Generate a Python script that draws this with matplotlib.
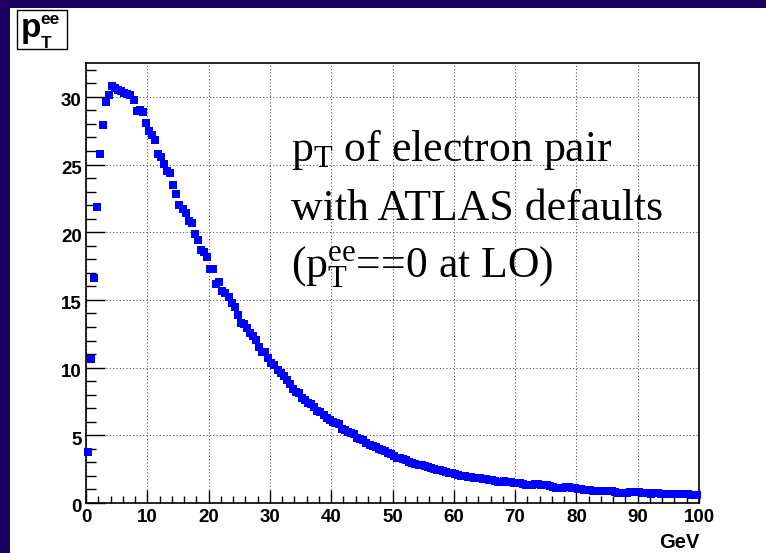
import numpy as np
import matplotlib
matplotlib.use("Agg")
import matplotlib.pyplot as plt
from matplotlib.patches import Rectangle
from matplotlib.ticker import MultipleLocator
from matplotlib.transforms import ScaledTranslation

# ---------------- data ----------------
x_min, x_max, n_bins = 0.0, 100.0, 200
pt_counts = [
    3.8, 10.6, 16.6, 21.9, 25.8, 27.9, 29.6, 30.1, 30.8, 30.65,
    30.5, 30.45, 30.3, 30.2, 30.1, 29.75, 28.95, 29.0, 28.9, 28.1,
    27.5, 27.15, 26.8, 25.8, 25.55, 25.07, 24.5, 24.4, 23.5, 22.85,
    22.0, 21.7, 21.4, 20.8, 20.7, 19.85, 19.45, 18.67, 18.55, 18.2,
    17.3, 17.3, 16.16, 16.33, 15.67, 15.52, 15.18, 14.78, 14.49, 13.85,
    13.33, 13.19, 12.89, 12.52, 12.35, 12.03, 11.54, 11.17, 11.12, 10.68,
    10.35, 10.22, 9.8, 9.6, 9.35, 9.05, 8.78, 8.4, 8.2, 8.1,
    7.75, 7.58, 7.4, 7.3, 7.1, 6.8, 6.72, 6.5, 6.25, 6.12,
    5.95, 5.9, 5.8, 5.5, 5.38, 5.25, 5.2, 5.12, 4.8, 4.75,
    4.66, 4.45, 4.3, 4.18, 4.12, 4.0, 3.92, 3.84, 3.7, 3.6,
    3.5, 3.35, 3.3, 3.22, 3.17, 3.05, 2.98, 2.9, 2.8, 2.78,
    2.74, 2.68, 2.58, 2.52, 2.45, 2.42, 2.33, 2.3, 2.22, 2.18,
    2.12, 2.06, 2.03, 1.99, 1.95, 1.9, 1.88, 1.83, 1.82, 1.77,
    1.75, 1.72, 1.7, 1.62, 1.55, 1.57, 1.6, 1.57, 1.55, 1.5,
    1.46, 1.45, 1.38, 1.33, 1.3, 1.35, 1.38, 1.38, 1.36, 1.33,
    1.32, 1.25, 1.18, 1.1, 1.08, 1.1, 1.17, 1.2, 1.12, 1.08,
    1.06, 1.02, 0.98, 0.96, 0.93, 0.9, 0.9, 0.89, 0.88, 0.9,
    0.89, 0.85, 0.8, 0.76, 0.77, 0.75, 0.76, 0.78, 0.79, 0.8,
    0.79, 0.75, 0.72, 0.71, 0.7, 0.72, 0.71, 0.7, 0.68, 0.69,
    0.69, 0.67, 0.66, 0.66, 0.65, 0.64, 0.64, 0.62, 0.6, 0.59,
]
x_ticks = [0, 10, 20, 30, 40, 50, 60, 70, 80, 90, 100]
y_ticks = [0, 5, 10, 15, 20, 25, 30]
x_unit = "GeV"
annotation_lines = [
    r"$\mathregular{p_T}$ of electron pair",
    "with ATLAS defaults",
    r"($\mathregular{p_T^{ee}}$==0 at LO)",
]

# ---------------- figure ----------------
W, H = 766, 553
navy = "#1b0060"
fig = plt.figure(figsize=(W / 100, H / 100), dpi=100, facecolor=navy)

def fx(px):
    return px / W

def fy(py):
    return 1 - py / H

# white canvas
fig.patches.append(Rectangle((fx(10), 0), 1 - fx(10), fy(7.5), transform=fig.transFigure,
                             facecolor="white", edgecolor="none", zorder=-10))

ax = fig.add_axes([fx(86), 50 / H, 613 / W, 440 / H])
ax.set_facecolor("white")

edges = np.linspace(x_min, x_max, n_bins + 1)
centers = 0.5 * (edges[:-1] + edges[1:])
ax.plot(centers, pt_counts, linestyle="none", marker="s", markersize=5.1,
        color="#0000ff", markeredgewidth=0, zorder=3, clip_on=False)

ax.set_xlim(0, 100)
ax.set_ylim(0, 32.5)
ax.set_xticks(x_ticks)
ax.set_yticks(y_ticks)
ax.xaxis.set_minor_locator(MultipleLocator(2))
ax.yaxis.set_minor_locator(MultipleLocator(1))

ax.grid(True, which="major", color="#555555", linestyle=(0, (1, 2)), linewidth=0.8)
ax.set_axisbelow(True)

for sp in ax.spines.values():
    sp.set_linewidth(1.2)
    sp.set_color("black")

ax.tick_params(axis="x", which="major", direction="in", length=9.1, width=1.0, pad=4,
               top=False, labelsize=13.5)
ax.tick_params(axis="x", which="minor", direction="in", length=4.8, width=1.0, top=False)
ax.tick_params(axis="y", which="major", direction="in", length=13.7, width=1.0, pad=3,
               right=False, labelsize=13.5)
ax.tick_params(axis="y", which="minor", direction="in", length=7.2, width=1.0, right=False)

ax.set_xticklabels([str(t) for t in x_ticks])
ax.set_yticklabels([str(t) for t in y_ticks])
for lab in ax.get_xticklabels() + ax.get_yticklabels():
    lab.set_fontfamily("Liberation Sans")
    lab.set_fontweight("bold")
for lab in ax.get_yticklabels():
    lab.set_transform(lab.get_transform() + ScaledTranslation(0, -3 / 100, fig.dpi_scale_trans))

fig.text(fx(699), fy(542), x_unit, ha="right", va="center", fontsize=14.5,
         fontweight="bold", family="Liberation Sans")

# title box
fig.patches.append(Rectangle((fx(17), fy(49)), (67 - 17) / W, (49 - 10) / H,
                             transform=fig.transFigure, facecolor="white",
                             edgecolor="black", linewidth=1.0, zorder=5))
fig.text(fx(21), fy(37), "p", fontsize=24, fontweight="bold", family="Liberation Sans",
         ha="left", va="baseline", zorder=6)
fig.text(fx(40), fy(24), "ee", fontsize=12.5, fontweight="bold", family="Liberation Sans",
         ha="left", va="baseline", zorder=6)
fig.text(fx(40.5), fy(48), "T", fontsize=12.5, fontweight="bold", family="Liberation Sans",
         ha="left", va="baseline", zorder=6)

# annotation
baselines = [161.5, 220.0, 277.0]
for line, b in zip(annotation_lines, baselines):
    fig.text(fx(291), fy(b), line, fontsize=31.5, family="Liberation Serif",
             ha="left", va="baseline", color="black", zorder=6)

fig.savefig("out.png", dpi=100, facecolor=navy)
